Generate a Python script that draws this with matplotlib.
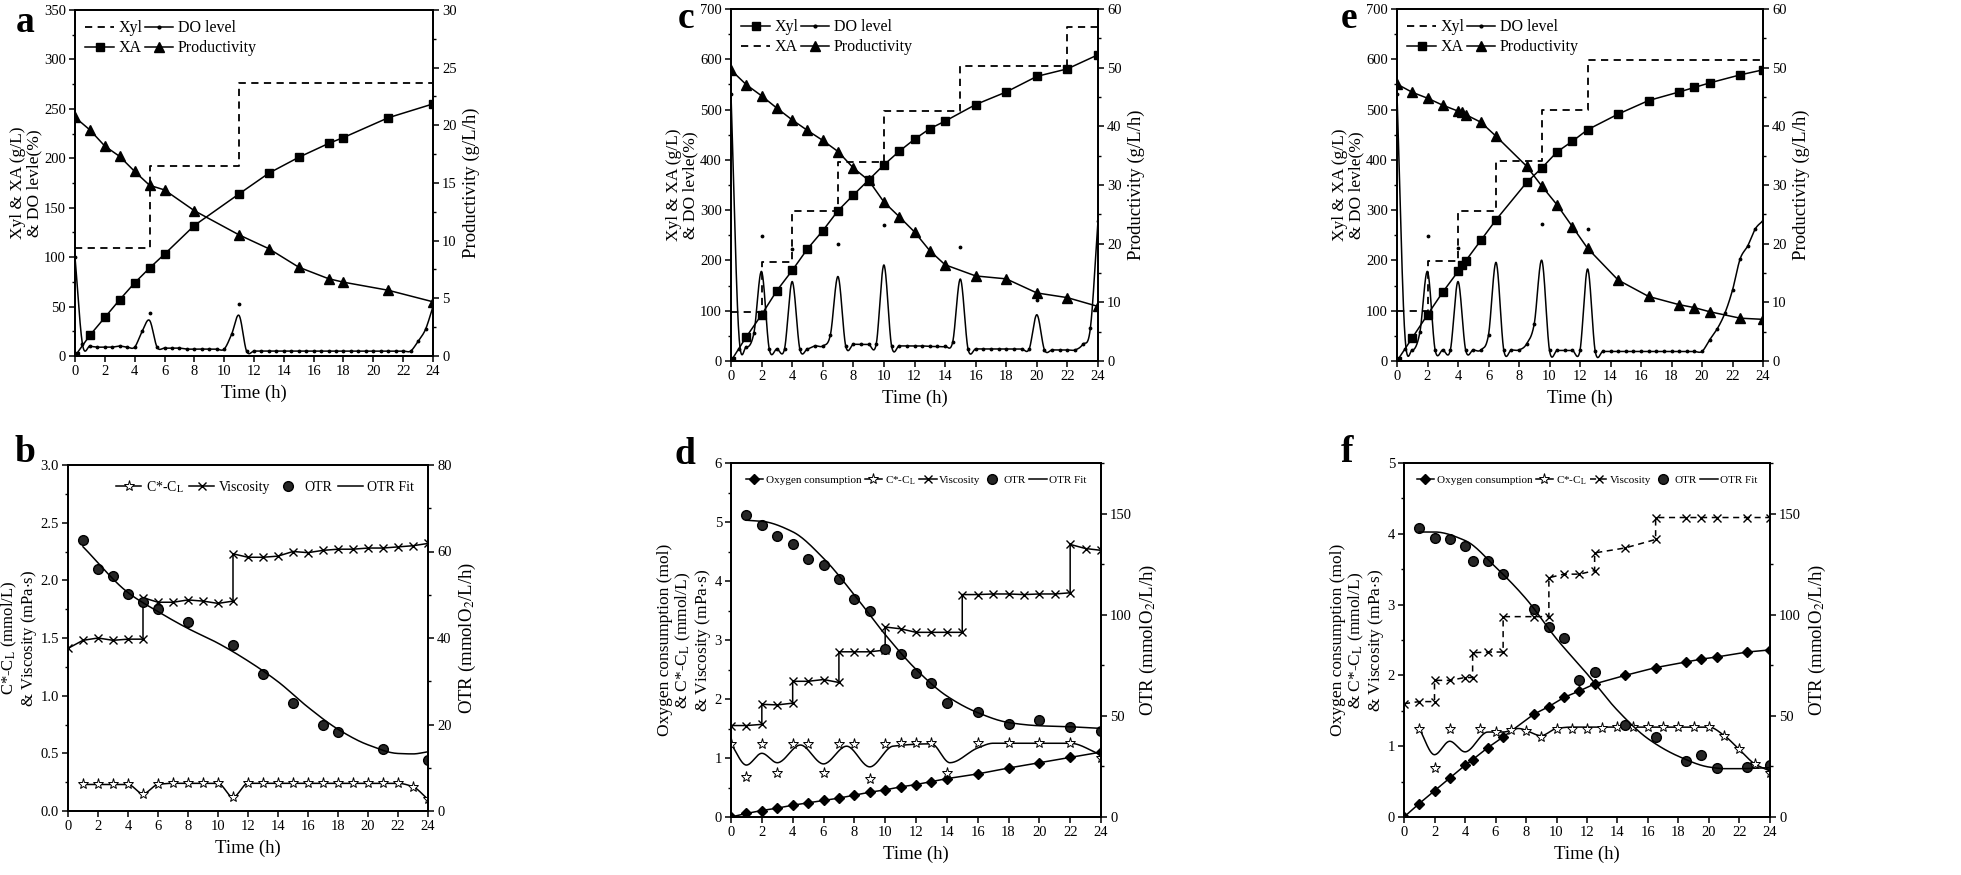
import numpy as np
import matplotlib
matplotlib.use("Agg")
import matplotlib.pyplot as plt
from matplotlib.lines import Line2D
from matplotlib.ticker import MultipleLocator, AutoMinorLocator

plt.rcParams['font.family'] = ['Liberation Serif', 'DejaVu Serif']
plt.rcParams['mathtext.fontset'] = 'stix'

# ---------------- data ----------------
half_h = np.arange(0, 24.5, 0.5)

# panel a
t_a = [0, 1, 2, 3, 4, 5, 6, 8, 11, 13, 15, 17, 18, 21, 24]
xa_a = [0, 21, 39, 57, 74, 89, 103, 132, 164, 185, 201, 215, 221, 241, 255]
prod_a = [20.7, 19.6, 18.2, 17.3, 16.0, 14.8, 14.4, 12.6, 10.5, 9.3, 7.7, 6.7, 6.4, 5.7, 4.7]
feed_t_a = [0, 5, 11, 24]
xyl_a = [109, 192, 276, 276]
do_a = ([100, 12, 10, 9, 9, 9, 10, 9, 9, 25, 44, 9, 8, 8, 8, 7, 7, 7, 7, 7, 7, 22, 53, 5]
        + [5] * 22 + [15, 27, 50])
do_peak_a = {5: 36, 11: 41}

# panel c
t_c = [0, 1, 2, 3, 4, 5, 6, 7, 8, 9, 10, 11, 12, 13, 14, 16, 18, 20, 22, 24]
xa_c = [0, 48, 92, 140, 180, 223, 259, 299, 330, 360, 390, 417, 441, 462, 477, 510, 535, 566, 581, 609]
prod_c = [49.6, 47.1, 45.2, 43.1, 41.1, 39.3, 37.6, 35.7, 32.9, 30.8, 27.1, 24.6, 22.0, 18.8, 16.4,
          14.5, 14.0, 11.6, 10.8, 9.3]
feed_t_c = [0, 2, 4, 7, 10, 15, 22, 24]
xyl_c = [98, 197, 298, 396, 497, 586, 665, 665]
do_c = [530, 24, 28, 56, 249, 24, 24, 24, 222, 24, 24, 30, 30, 52, 232, 30, 33, 33, 33, 34, 270,
        30, 30, 30, 30, 30, 29, 29, 29, 38, 227, 24, 24, 24, 24, 24, 24, 24, 24, 24, 122,
        22, 22, 22, 22, 22, 33, 65, 279]
do_peak_c = {0.5: 60, 2: 178, 4: 158, 7: 168, 10: 191, 15: 163, 20: 92}

# panel e
t_e = [0, 1, 2, 3, 4, 4.25, 4.5, 5.5, 6.5, 8.5, 9.5, 10.5, 11.5, 12.5, 14.5, 16.5, 18.5, 19.5, 20.5, 22.5, 24]
xa_e = [0, 46, 92, 137, 178, 190, 199, 240, 281, 355, 384, 416, 437, 460, 491, 518, 535, 544, 553, 569, 579]
prod_e = [47.2, 45.8, 44.8, 43.6, 42.6, 42.4, 42.0, 40.7, 38.3, 33.2, 29.8, 26.6, 22.9, 19.2, 13.8,
          11.0, 9.6, 9.1, 8.4, 7.3, 7.1]
feed_t_e = [0, 2, 4, 6.5, 9.5, 12.5, 24]
xyl_e = [99, 198, 298, 398, 499, 599, 599]
do_e = ([530, 24, 22, 57, 249, 22, 22, 22, 225, 22, 22, 22, 52, 280, 22, 22, 22, 34, 74, 273,
         21, 21, 21, 21, 21, 262, 19] + [19] * 14 + [42, 64, 95, 141, 203, 229, 263, 279])
do_peak_e = {0.5: 60, 2: 178, 4: 158, 6.5: 196, 9.5: 200, 12.5: 183}

# panel b
cl_t_b = list(range(1, 25))
cl_b = [0.23, 0.23, 0.23, 0.23, 0.15, 0.23, 0.24, 0.24, 0.24, 0.24, 0.12, 0.24, 0.24, 0.24, 0.24,
        0.24, 0.24, 0.24, 0.24, 0.24, 0.24, 0.24, 0.21, 0.10]
visc_t_b = [0, 1, 2, 3, 4, 5, 5, 6, 7, 8, 9, 10, 11, 11, 12, 13, 14, 15, 16, 17, 18, 19, 20, 21, 22, 23, 24]
visc_b = [1.41, 1.48, 1.50, 1.48, 1.49, 1.49, 1.85, 1.81, 1.81, 1.83, 1.82, 1.80, 1.82, 2.23,
          2.20, 2.20, 2.21, 2.25, 2.24, 2.26, 2.27, 2.27, 2.28, 2.28, 2.29, 2.30, 2.32]
otr_t_b = [1, 2, 3, 4, 5, 6, 8, 11, 13, 15, 17, 18, 21, 24]
otr_b = [62.7, 55.9, 54.4, 50.1, 48.4, 46.7, 43.8, 38.4, 31.7, 25.0, 19.9, 18.3, 14.3, 11.9]
fit_t_b = [1, 4, 6, 8, 10, 12, 14, 16, 18, 20, 22, 23, 24]
fit_b = [61.1, 50.5, 46.1, 42.2, 38.8, 34.7, 29.9, 24.0, 18.9, 15.3, 13.3, 13.2, 13.7]

# panel d
oc_t_d = [0, 1, 2, 3, 4, 5, 6, 7, 8, 9, 10, 11, 12, 13, 14, 16, 18, 20, 22, 24]
oc_d = [0, 0.06, 0.11, 0.15, 0.20, 0.24, 0.28, 0.32, 0.37, 0.42, 0.46, 0.51, 0.55, 0.60, 0.65,
        0.73, 0.83, 0.92, 1.01, 1.10]
cl_t_d = [0, 1, 2, 3, 4, 5, 6, 7, 8, 9, 10, 11, 12, 13, 14, 16, 18, 20, 22, 24]
cl_d = [1.24, 0.67, 1.24, 0.75, 1.24, 1.24, 0.75, 1.24, 1.24, 0.65, 1.24, 1.25, 1.25, 1.25, 0.75,
        1.25, 1.25, 1.25, 1.25, 1.00]
clfit_t_d = [0, 1, 2, 3, 4.5, 6, 7.5, 9, 10.5, 13, 14.2, 16, 17, 22, 24]
clfit_d = [1.24, 0.88, 1.08, 0.92, 1.22, 0.90, 1.20, 0.85, 1.20, 1.24, 0.92, 1.17, 1.25, 1.25, 1.05]
visc_t_d = [0, 1, 2, 2, 3, 4, 4, 5, 6, 7, 7, 8, 9, 10, 10, 11, 12, 13, 14, 15, 15, 16, 17, 18, 19,
            20, 21, 22, 22, 23, 24]
visc_d = [1.55, 1.55, 1.57, 1.91, 1.90, 1.93, 2.30, 2.30, 2.33, 2.28, 2.80, 2.80, 2.80, 2.83, 3.22,
          3.19, 3.13, 3.13, 3.13, 3.13, 3.77, 3.77, 3.78, 3.78, 3.77, 3.78, 3.78, 3.80, 4.62, 4.55, 4.52]
otr_t_d = [1, 2, 3, 4, 5, 6, 7, 8, 9, 10, 11, 12, 13, 14, 16, 18, 20, 22, 24]
otr_d = [149.5, 144.3, 139, 135.2, 127.4, 124.6, 117.7, 107.7, 101.6, 83.1, 80.7, 71, 66, 56.6,
         52.1, 45.9, 47.9, 44.3, 42.6]
fit_t_d = [1, 2, 4, 6, 8, 10, 12, 14, 16, 18, 20, 22, 24]
fit_d = [146.7, 146.2, 141, 127.9, 109.8, 90.2, 73, 59.8, 51.6, 46.7, 45.1, 44.6, 43.8]

# panel f
oc_t_f = [0, 1, 2, 3, 4, 4.5, 5.5, 6.5, 8.5, 9.5, 10.5, 11.5, 12.5, 14.5, 16.5, 18.5, 19.5, 20.5, 22.5, 24]
oc_f = [0, 0.19, 0.37, 0.55, 0.73, 0.81, 0.98, 1.13, 1.45, 1.56, 1.69, 1.78, 1.88, 2.00, 2.11,
        2.19, 2.23, 2.26, 2.33, 2.36]
cl_t_f = [1, 2, 3, 5, 6, 7, 8, 9, 10, 11, 12, 13, 14, 15, 16, 17, 18, 19, 20, 21, 22, 23, 24]
cl_f = [1.25, 0.69, 1.25, 1.25, 1.20, 1.23, 1.22, 1.13, 1.25, 1.25, 1.25, 1.26, 1.27, 1.27, 1.27,
        1.27, 1.27, 1.27, 1.27, 1.15, 0.96, 0.75, 0.62]
clfit_t_f = [1, 2, 3, 4, 5.5, 6.5, 7.5, 9, 10, 11, 20, 21, 22, 23, 24]
clfit_f = [1.25, 0.88, 1.07, 0.92, 1.20, 1.20, 1.25, 1.15, 1.25, 1.27, 1.27, 1.15, 0.95, 0.75, 0.65]
visc_t_f = [0, 1, 2, 2, 3, 4, 4.5, 4.5, 5.5, 6.5, 6.5, 8.5, 9.5, 9.5, 10.5, 11.5, 12.5, 12.5, 14.5,
            16.5, 16.5, 18.5, 19.5, 20.5, 22.5, 24]
visc_f = [1.60, 1.63, 1.63, 1.93, 1.93, 1.97, 1.97, 2.32, 2.33, 2.33, 2.83, 2.83, 2.83, 3.38, 3.43,
          3.43, 3.48, 3.73, 3.80, 3.92, 4.23, 4.23, 4.23, 4.23, 4.23, 4.23]
otr_t_f = [1, 2, 3, 4, 4.5, 5.5, 6.5, 8.5, 9.5, 10.5, 11.5, 12.5, 14.5, 16.5, 18.5, 19.5, 20.5, 22.5, 24]
otr_f = [143, 138, 137.6, 133.8, 126.5, 126.5, 120.3, 102.6, 93.9, 88.5, 67.5, 71.7, 45.3, 39.5,
         27.5, 30.8, 24.4, 24.7, 25.5]
fit_t_f = [1, 2, 4, 6, 8, 10, 12, 14, 16, 18, 20, 21, 22, 24]
fit_f = [140.9, 140.9, 136.7, 123.6, 107.9, 88.1, 70.8, 52.7, 38.7, 30, 24.7, 23.9, 23.9, 24.4]


# ---------------- helpers ----------------
def smooth(x, y, n=25, mono=True):
    # cubic Hermite curve through the points (monotone or Catmull-Rom slopes)
    x = np.asarray(x, float)
    y = np.asarray(y, float)
    h = np.diff(x)
    d = np.diff(y) / h
    m = np.zeros_like(y)
    m[0], m[-1] = d[0], d[-1]
    for k in range(1, len(x) - 1):
        if not mono:
            m[k] = (y[k + 1] - y[k - 1]) / (x[k + 1] - x[k - 1])
        elif d[k - 1] * d[k] <= 0:
            m[k] = 0
        else:
            w1, w2 = 2 * h[k] + h[k - 1], h[k] + 2 * h[k - 1]
            m[k] = (w1 + w2) / (w1 / d[k - 1] + w2 / d[k])
    xs, ys = [], []
    for k in range(len(x) - 1):
        s = np.linspace(0, 1, n, endpoint=False)
        h00 = 2 * s**3 - 3 * s**2 + 1
        h10 = s**3 - 2 * s**2 + s
        h01 = -2 * s**3 + 3 * s**2
        h11 = s**3 - s**2
        xs.append(x[k] + s * h[k])
        ys.append(h00 * y[k] + h10 * h[k] * m[k] + h01 * y[k + 1] + h11 * h[k] * m[k + 1])
    xs.append([x[-1]])
    ys.append([y[-1]])
    return np.concatenate(xs), np.concatenate(ys)


def do_line(dots, peaks):
    vals = np.array(dots, float)
    for t, v in peaks.items():
        vals[int(round(t * 2))] = v
    return vals


W, H = 1961, 875
fig = plt.figure(figsize=(W / 100, H / 100), dpi=100)


def make_axes(x0, y0, x1, y1):
    ax = fig.add_axes([x0 / W, 1 - y1 / H, (x1 - x0) / W, (y1 - y0) / H])
    ax2 = ax.twinx()
    for a in (ax, ax2):
        for sp in a.spines.values():
            sp.set_linewidth(1.3)
        a.tick_params(direction='out', labelsize=10.5, width=1.1, length=4, pad=2.5)
        a.tick_params(which='minor', direction='out', width=1.0, length=2.5)
    ax.set_xlim(0, 24)
    ax.xaxis.set_major_locator(MultipleLocator(2))
    ax.set_xlabel('Time (h)', fontsize=13.5, labelpad=5)
    return ax, ax2


def letter(x, y, s):
    fig.text(x / W, 1 - y / H, s, fontsize=27, fontweight='bold', ha='center', va='center')


lw = 1.1
star = dict(marker='*', markersize=8, markerfacecolor='white', markeredgecolor='black',
            markeredgewidth=0.7)
otr_style = dict(marker='o', markersize=7, markerfacecolor='0.15', markeredgecolor='black',
                 linestyle='none')
ylab = dict(fontsize=12.5, linespacing=1.05, labelpad=1)


def top_panel(pos, t, xa, prod, feed_t, feed, do, peaks, ymax, y2max, ystep, y2step,
              legend_swap=False):
    ax, ax2 = make_axes(*pos)
    ax.set_ylim(0, ymax)
    ax2.set_ylim(0, y2max)
    ax.yaxis.set_major_locator(MultipleLocator(ystep))
    ax.yaxis.set_minor_locator(AutoMinorLocator(2))
    ax2.yaxis.set_major_locator(MultipleLocator(y2step))
    ax2.yaxis.set_minor_locator(AutoMinorLocator(2))
    ax.step(feed_t, feed, where='post', color='black', lw=1.3, ls=(0, (4, 3)))
    ax.plot(t, xa, color='black', lw=lw, marker='s', markersize=6)
    lx, ly = smooth(half_h, do_line(do, peaks), mono=False)
    ax.plot(lx, ly, color='black', lw=lw)
    ax.plot(half_h, do, 'k.', markersize=3.5)
    ax2.plot(t, prod, color='black', lw=lw, marker='^', markersize=7)
    ax.set_ylabel('Xyl & XA (g/L)\n& DO levle(%)', **ylab)
    ax2.set_ylabel('Productivity (g/L/h)', fontsize=13.5)
    h_dash = Line2D([], [], color='black', lw=1.3, ls=(0, (4, 3)))
    h_sq = Line2D([], [], color='black', lw=lw, marker='s', markersize=6)
    h_do = Line2D([], [], color='black', lw=lw, marker='.', markersize=4)
    h_tri = Line2D([], [], color='black', lw=lw, marker='^', markersize=7)
    if legend_swap:
        hs = [h_sq, h_dash, h_do, h_tri]
    else:
        hs = [h_dash, h_sq, h_do, h_tri]
    ax.legend(hs, ['Xyl', 'XA', 'DO level', 'Productivity'], ncol=2, loc='upper left',
              frameon=False, fontsize=11.5, handlelength=1.8, columnspacing=0.1,
              handletextpad=0.3, labelspacing=0.25, borderaxespad=0.25)
    return ax, ax2


top_panel((75, 10, 433, 356), t_a, xa_a, prod_a, feed_t_a, xyl_a, do_a, do_peak_a,
          350, 30, 50, 5)
letter(25, 23, 'a')
top_panel((731, 9, 1098, 361), t_c, xa_c, prod_c, feed_t_c, xyl_c, do_c, do_peak_c,
          700, 60, 100, 10, legend_swap=True)
letter(686, 19, 'c')
top_panel((1397, 9, 1763, 361), t_e, xa_e, prod_e, feed_t_e, xyl_e, do_e, do_peak_e,
          700, 60, 100, 10)
letter(1349, 19, 'e')

# panel b
ax, ax2 = make_axes(68, 465, 428, 811)
ax.set_ylim(0, 3.0)
ax2.set_ylim(0, 80)
ax.yaxis.set_major_locator(MultipleLocator(0.5))
ax.yaxis.set_minor_locator(AutoMinorLocator(2))
ax.yaxis.set_major_formatter(plt.FormatStrFormatter('%.1f'))
ax2.yaxis.set_major_locator(MultipleLocator(20))
ax2.yaxis.set_minor_locator(AutoMinorLocator(2))
sx, sy = smooth(cl_t_b, cl_b)
ax.plot(sx, sy, color='black', lw=lw)
ax.plot(cl_t_b, cl_b, linestyle='none', **star)
ax.plot(visc_t_b, visc_b, color='black', lw=lw, marker='x', markersize=6)
ax2.plot(otr_t_b, otr_b, **otr_style)
fx, fy = smooth(fit_t_b, fit_b)
ax2.plot(fx, fy, color='black', lw=lw)
ax.set_ylabel('C*-C$_\\mathrm{L}$ (mmol/L)\n& Viscosity (mPa$\\cdot$s)', fontsize=12,
              linespacing=1.0, labelpad=1)
ax2.set_ylabel('OTR (mmolO$_2$/L/h)', fontsize=13.5)
hs = [Line2D([], [], color='black', lw=lw, **star),
      Line2D([], [], color='black', lw=lw, marker='x', markersize=6),
      Line2D([], [], **otr_style),
      Line2D([], [], color='black', lw=lw)]
ax.legend(hs, ['C*-C$_\\mathrm{L}$', 'Viscosity', 'OTR', 'OTR Fit'], ncol=4, loc='upper right',
          frameon=False, fontsize=10, handlelength=1.8, columnspacing=0.4, handletextpad=0.3,
          borderaxespad=0.6)
letter(25, 453, 'b')


def bottom_panel(pos, ymax, oc_t, oc, cl_t, cl, clf_t, clf, v_t, v, o_t, o, f_t, f, v_ls):
    ax, ax2 = make_axes(*pos)
    ax.set_ylim(0, ymax)
    ax2.set_ylim(0, 175)
    ax.yaxis.set_major_locator(MultipleLocator(1))
    ax.yaxis.set_minor_locator(AutoMinorLocator(2))
    ax2.yaxis.set_major_locator(MultipleLocator(50))
    ax2.yaxis.set_minor_locator(AutoMinorLocator(2))
    ax.plot(oc_t, oc, color='black', lw=lw, marker='D', markersize=5.5)
    cx, cy = smooth(clf_t, clf)
    ax.plot(cx, cy, color='black', lw=lw)
    ax.plot(cl_t, cl, linestyle='none', **star)
    ax.plot(v_t, v, color='black', lw=lw, ls=v_ls, marker='x', markersize=6)
    ax2.plot(o_t, o, **otr_style)
    fx, fy = smooth(f_t, f)
    ax2.plot(fx, fy, color='black', lw=lw)
    ax.set_ylabel('Oxygen consumption (mol)\n& C*-C$_\\mathrm{L}$ (mmol/L)\n& Viscosity (mPa$\\cdot$s)',
                  **ylab)
    ax2.set_ylabel('OTR (mmolO$_2$/L/h)', fontsize=13.5)
    hs = [Line2D([], [], color='black', lw=lw, marker='D', markersize=5),
          Line2D([], [], color='black', lw=lw, **star),
          Line2D([], [], color='black', lw=lw, ls=v_ls, marker='x', markersize=6),
          Line2D([], [], **otr_style),
          Line2D([], [], color='black', lw=lw)]
    ax.legend(hs, ['Oxygen consumption', 'C*-C$_\\mathrm{L}$', 'Viscosity', 'OTR', 'OTR Fit'],
              ncol=5, loc='upper center', frameon=False, fontsize=8, handlelength=1.6,
              columnspacing=0.3, handletextpad=0.2, borderaxespad=0.6)


bottom_panel((731, 463, 1101, 817), 6, oc_t_d, oc_d, cl_t_d, cl_d, clfit_t_d, clfit_d,
             visc_t_d, visc_d, otr_t_d, otr_d, fit_t_d, fit_d, '-')
letter(685, 455, 'd')
bottom_panel((1404, 463, 1770, 817), 5, oc_t_f, oc_f, cl_t_f, cl_f, clfit_t_f, clfit_f,
             visc_t_f, visc_f, otr_t_f, otr_f, fit_t_f, fit_f, (0, (4, 3)))
letter(1347, 452, 'f')

fig.savefig('out.png', dpi=100)
